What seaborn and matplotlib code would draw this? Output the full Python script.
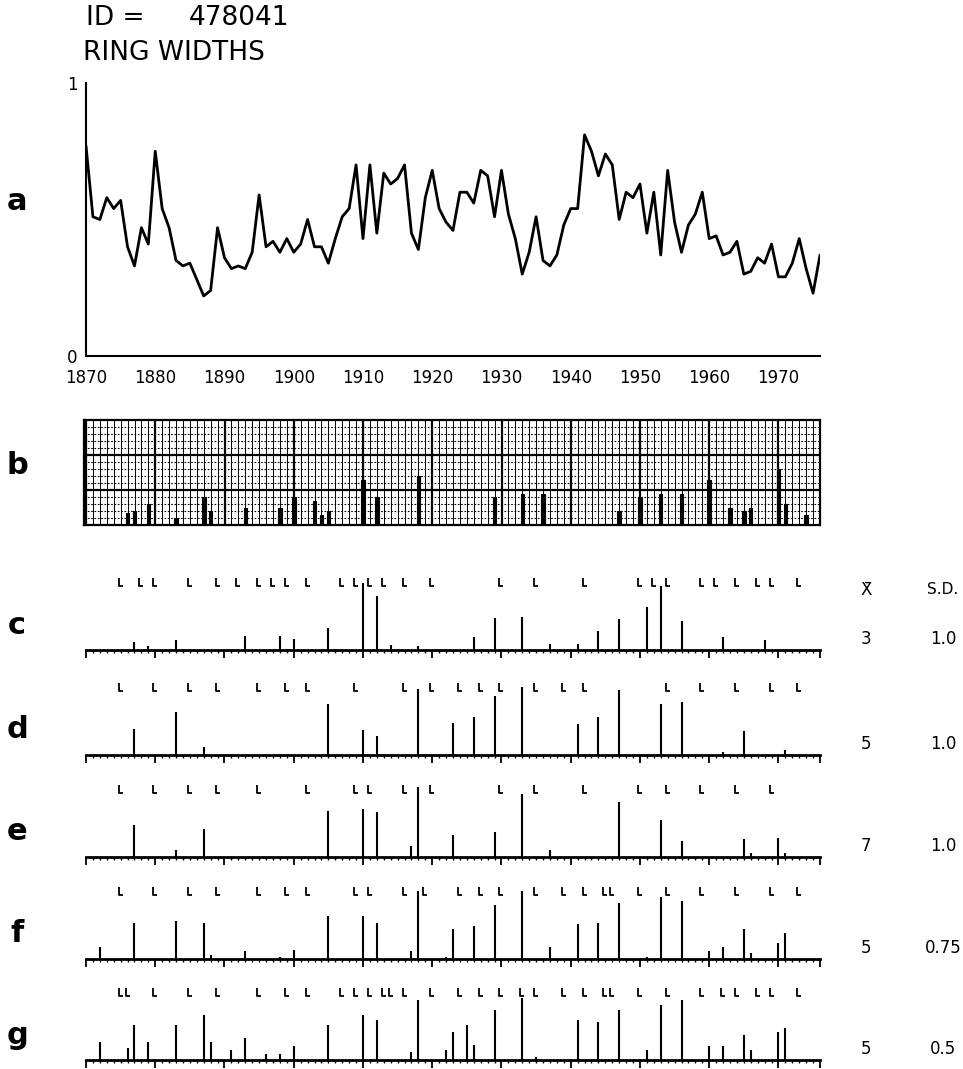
import numpy as np
import pandas as pd
import matplotlib
matplotlib.use("Agg")
import matplotlib.pyplot as plt
import seaborn as sns
from matplotlib.path import Path

# ring width series (panel a)
years = list(range(1870, 1977))
ring_widths = [
    0.77, 0.51, 0.50, 0.58, 0.54, 0.57, 0.40, 0.33, 0.47, 0.41,
    0.75, 0.54, 0.47, 0.35, 0.33, 0.34, 0.28, 0.22, 0.24, 0.47,
    0.36, 0.32, 0.33, 0.32, 0.38, 0.59, 0.40, 0.42, 0.38, 0.43,
    0.38, 0.41, 0.50, 0.40, 0.40, 0.34, 0.43, 0.51, 0.54, 0.70,
    0.43, 0.70, 0.45, 0.67, 0.63, 0.65, 0.70, 0.45, 0.39, 0.58,
    0.68, 0.54, 0.49, 0.46, 0.60, 0.60, 0.56, 0.68, 0.66, 0.51,
    0.68, 0.52, 0.43, 0.30, 0.38, 0.51, 0.35, 0.33, 0.37, 0.48,
    0.54, 0.54, 0.81, 0.75, 0.66, 0.74, 0.70, 0.50, 0.60, 0.58,
    0.63, 0.45, 0.60, 0.37, 0.68, 0.49, 0.38, 0.48, 0.52, 0.60,
    0.43, 0.44, 0.37, 0.38, 0.42, 0.30, 0.31, 0.36, 0.34, 0.41,
    0.29, 0.29, 0.34, 0.43, 0.32, 0.23, 0.37,
]

# skeleton plot (panel b), bar heights in grid rows
skel_years = [1876, 1877, 1879, 1883, 1887, 1888, 1893, 1898, 1900, 1903, 1904, 1905,
              1910, 1912, 1918, 1929, 1933, 1936, 1947, 1950, 1953, 1956, 1960,
              1963, 1965, 1966, 1970, 1971, 1974]
skel_heights = [0.35, 0.4, 0.6, 0.2, 0.8, 0.4, 0.5, 0.5, 0.8, 0.7, 0.3, 0.4,
                1.3, 0.8, 1.4, 0.8, 0.9, 0.9, 0.4, 0.8, 0.9, 0.9, 1.3,
                0.5, 0.4, 0.5, 1.6, 0.6, 0.3]

# spike panels c-g
c_years = [1877, 1879, 1883, 1893, 1898, 1900, 1905, 1910, 1912, 1914, 1918, 1926,
           1929, 1933, 1937, 1941, 1944, 1947, 1951, 1953, 1956, 1962, 1968]
c_heights = [8, 4, 10, 14, 14, 11, 22, 67, 54, 5, 4, 13, 32, 33, 6, 6, 19, 31, 43,
             64, 29, 13, 10]
c_marks = [1875, 1878, 1880, 1885, 1889, 1892, 1895, 1897, 1899, 1902, 1907, 1909,
           1911, 1913, 1916, 1920, 1930, 1935, 1942, 1950, 1952, 1954, 1959, 1961,
           1964, 1967, 1969, 1973]

d_years = [1877, 1883, 1887, 1905, 1910, 1912, 1918, 1923, 1926, 1929, 1933, 1941,
           1944, 1947, 1953, 1956, 1962, 1965, 1971]
d_heights = [26, 43, 8, 51, 25, 19, 66, 32, 38, 59, 68, 31, 38, 65, 51, 53, 3, 24, 5]
d_marks = [1875, 1880, 1885, 1889, 1895, 1899, 1902, 1909, 1916, 1920, 1924, 1927,
           1930, 1935, 1939, 1942, 1954, 1959, 1964, 1969, 1973]

e_years = [1877, 1883, 1887, 1905, 1910, 1912, 1917, 1918, 1923, 1929, 1933, 1937,
           1947, 1953, 1956, 1965, 1966, 1970, 1971]
e_heights = [32, 7, 28, 46, 48, 45, 11, 70, 22, 25, 63, 7, 55, 37, 16, 18, 4, 19, 4]
e_marks = [1875, 1880, 1885, 1889, 1895, 1902, 1909, 1911, 1916, 1920, 1930, 1935,
           1942, 1950, 1954, 1959, 1964, 1969]

f_years = [1872, 1876, 1877, 1883, 1887, 1888, 1893, 1898, 1900, 1905, 1910, 1912,
           1917, 1918, 1922, 1923, 1926, 1929, 1933, 1937, 1941, 1944, 1947, 1951,
           1953, 1956, 1960, 1962, 1965, 1966, 1970, 1971]
f_heights = [12, 1, 36, 38, 36, 4, 8, 2, 9, 43, 43, 36, 8, 68, 2, 30, 33, 54, 68, 12,
             35, 36, 56, 2, 62, 58, 8, 12, 30, 6, 16, 26]
f_marks = [1875, 1880, 1885, 1889, 1895, 1899, 1902, 1909, 1911, 1916, 1919, 1924,
           1927, 1930, 1935, 1939, 1942, 1945, 1946, 1950, 1954, 1959, 1964, 1969, 1973]

g_years = [1872, 1876, 1877, 1879, 1883, 1887, 1888, 1891, 1893, 1896, 1898, 1900,
           1905, 1910, 1912, 1917, 1918, 1922, 1923, 1925, 1926, 1929, 1933, 1935,
           1941, 1944, 1947, 1951, 1953, 1956, 1960, 1962, 1965, 1966, 1970, 1971]
g_heights = [18, 12, 35, 18, 35, 45, 18, 10, 22, 6, 6, 14, 35, 45, 40, 8, 60, 10, 28,
             35, 15, 50, 62, 3, 40, 38, 50, 10, 55, 60, 14, 14, 25, 10, 28, 32]
g_marks = [1875, 1876, 1880, 1885, 1889, 1895, 1899, 1902, 1907, 1909, 1911, 1913,
           1914, 1916, 1920, 1924, 1927, 1930, 1933, 1935, 1939, 1942, 1945, 1946,
           1950, 1954, 1959, 1962, 1964, 1967, 1969, 1973]

panel_labels = ['c', 'd', 'e', 'f', 'g']
xbar_values = ['3', '5', '7', '5', '5']
sd_values = ['1.0', '1.0', '1.0', '0.75', '0.5']

sns.set_theme(style="white")
plt.rcParams['font.family'] = ['DejaVu Sans']
plt.rcParams['text.color'] = 'black'

W, H = 963, 1069
fig = plt.figure(figsize=(W / 100, H / 100), dpi=100)


def rect(x0, y0, x1, y1):
    # pixel box (top-left origin) -> figure fraction
    return [x0 / W, 1 - y1 / H, (x1 - x0) / W, (y1 - y0) / H]


def label(x, y, s, **kw):
    fig.text(x / W, 1 - y / H, s, color='black', **kw)


# title
label(86, 18, 'ID =', fontsize=19, va='center', ha='left')
label(189, 18, '478041', fontsize=19, va='center', ha='left')
label(83, 53, 'RING WIDTHS', fontsize=19, va='center', ha='left')

# panel a
ax_a = fig.add_axes(rect(86, 83, 820, 356))
df_a = pd.DataFrame({'year': years, 'width': ring_widths})
sns.lineplot(data=df_a, x='year', y='width', ax=ax_a, color='black', linewidth=2)
ax_a.set_xlim(1870, 1976)
ax_a.set_ylim(0, 1)
ax_a.set_xticks(range(1870, 1971, 10))
ax_a.set_yticks([0, 1])
ax_a.set_yticklabels(['0', '1'])
ax_a.set_xlabel('')
ax_a.set_ylabel('')
for s in ['top', 'right']:
    ax_a.spines[s].set_visible(False)
for s in ['left', 'bottom']:
    ax_a.spines[s].set_linewidth(1.5)
    ax_a.spines[s].set_color('black')
ax_a.tick_params(axis='y', direction='out', length=5, width=1.3, colors='black',
                 labelsize=12, pad=1)
ax_a.tick_params(axis='x', direction='out', length=4, width=1.3, colors='black',
                 labelsize=12, pad=5)

# panel b: skeleton plot on graph paper
ax_b = fig.add_axes(rect(84, 420, 820, 525))
ax_b.set_xlim(1869.7, 1976)
ax_b.set_ylim(0, 3)
for yr in range(1870, 1977):
    ax_b.axvline(yr, color='black', lw=1.6 if yr % 10 == 0 else 0.7, zorder=1)
for yv in np.arange(0.2, 3.0, 0.2):
    if abs(yv - round(yv)) > 1e-6:
        ax_b.axhline(yv, color='black', lw=0.8, ls=(0, (1.5, 1.5)), zorder=1)
for yv in [1, 2]:
    ax_b.axhline(yv, color='black', lw=1.6, zorder=2)
ax_b.bar(skel_years, skel_heights, width=0.5, color='black', edgecolor='black',
         linewidth=0.8, zorder=3)
ax_b.set_xticks([])
ax_b.set_yticks([])
for s in ax_b.spines.values():
    s.set_linewidth(1.6)
    s.set_color('black')

# L-shaped pointer marker
L_marker = Path([(-0.25, 0.5), (-0.25, -0.5), (0.3, -0.5)],
                [Path.MOVETO, Path.LINETO, Path.LINETO])

spike_sets = [
    (c_years, c_heights, c_marks),
    (d_years, d_heights, d_marks),
    (e_years, e_heights, e_marks),
    (f_years, f_heights, f_marks),
    (g_years, g_heights, g_marks),
]
baselines = [650, 755, 857, 959, 1060]

for i, (yrs, hts, marks) in enumerate(spike_sets):
    base = baselines[i]
    ax = fig.add_axes(rect(86, base - 80, 820, base))
    ax.vlines(yrs, 0, hts, color='black', lw=1.5)
    ax.plot(marks, [68] * len(marks), ls='none', marker=L_marker, ms=5.5, mew=1.3,
            color='black', fillstyle='none')
    ax.set_xlim(1870, 1976)
    ax.set_ylim(0, 80)
    for s in ['top', 'right', 'left']:
        ax.spines[s].set_visible(False)
    ax.spines['bottom'].set_linewidth(2)
    ax.spines['bottom'].set_color('black')
    ax.set_xticks(list(range(1870, 1971, 10)) + [1976])
    ax.set_xticks(range(1870, 1977), minor=True)
    ax.tick_params(axis='x', which='major', direction='out', length=6, width=1.3,
                   colors='black', labelbottom=False, bottom=True)
    ax.tick_params(axis='x', which='minor', direction='out', length=2.5, width=1,
                   colors='black', bottom=True)
    ax.set_yticks([])
    ax.patch.set_alpha(0)

    label(17, base - 25, panel_labels[i], fontsize=22, fontweight='bold',
          ha='center', va='center')
    label(866, base - 11, xbar_values[i], fontsize=12, ha='center', va='center')
    label(943, base - 11, sd_values[i], fontsize=12, ha='center', va='center')

# panel letters a, b and header of the statistics columns
label(17, 202, 'a', fontsize=22, fontweight='bold', ha='center', va='center')
label(17, 465, 'b', fontsize=22, fontweight='bold', ha='center', va='center')
label(866, 590, 'X\u0304', fontsize=12, ha='center', va='center')
label(943, 590, 'S.D.', fontsize=11, ha='center', va='center')

fig.savefig('out.png', dpi=100)
